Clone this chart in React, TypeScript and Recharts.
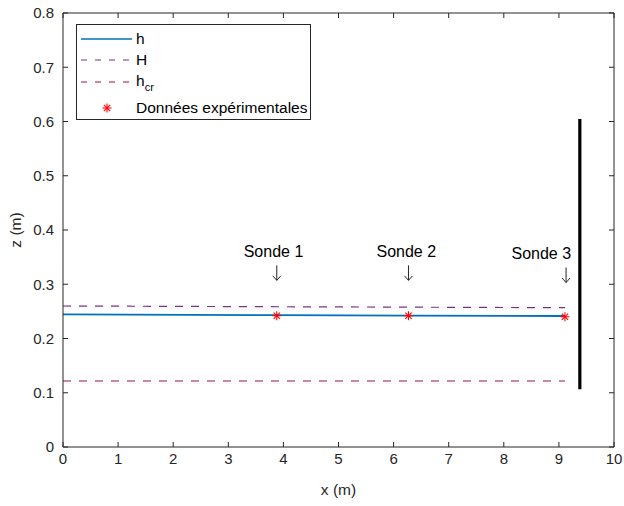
import React from 'react';
import { ComposedChart, Line, XAxis, YAxis, Scatter, Legend } from 'recharts';

const xTicks = [0, 1, 2, 3, 4, 5, 6, 7, 8, 9, 10];
const yTicks = [0, 0.1, 0.2, 0.3, 0.4, 0.5, 0.6, 0.7, 0.8];

const hX = [0, 3.88, 6.27, 9.11];
const hY = [0.2446, 0.243, 0.2422, 0.2415];
const bigHX = [0, 9.11];
const bigHY = [0.2599, 0.2568];
const hcrX = [0, 9.11];
const hcrY = [0.1217, 0.1217];
const expX = [3.88, 6.27, 9.11];
const expY = [0.242, 0.242, 0.24];
const wallX = [9.38, 9.38];
const wallY = [0.6046, 0.1063];

const sondeNames = ['Sonde 1', 'Sonde 2', 'Sonde 3'];
const sondeLabelX = [3.82, 6.23, 8.68];
const sondeLabelY = [0.361, 0.361, 0.357];
const arrowX = [3.88, 6.27, 9.13];
const arrowY = [0.321, 0.321, 0.317];

const legendNames = ['h', 'H', 'hcr', 'Données expérimentales'];

const BLUE = '#0072BD';
const PURPLE = '#7E2F8E';
const DARKRED = '#A2142F';
const AXIS = '#262626';
const FONT = '"Liberation Sans", Arial, Helvetica, sans-serif';

const zip = (xs: number[], ys: number[]) => xs.map((x, i) => ({ x, y: ys[i] }));
const hData = zip(hX, hY);
const bigHData = zip(bigHX, bigHY);
const hcrData = zip(hcrX, hcrY);
const expData = zip(expX, expY);
const wallData = zip(wallX, wallY);
const labelData = sondeNames.map((name, i) => ({ x: sondeLabelX[i], y: sondeLabelY[i], name }));
const arrowData = zip(arrowX, arrowY);

const Asterisk = ({ cx, cy, s = 4.5 }: any) => {
  const d = s * 0.707;
  return (
    <g stroke="#FF0000" strokeWidth={1.1}>
      <line x1={cx - s} y1={cy} x2={cx + s} y2={cy} />
      <line x1={cx} y1={cy - s} x2={cx} y2={cy + s} />
      <line x1={cx - d} y1={cy - d} x2={cx + d} y2={cy + d} />
      <line x1={cx - d} y1={cy + d} x2={cx + d} y2={cy - d} />
    </g>
  );
};

const SondeLabel = (props: any) => {
  const { cx, cy, payload } = props;
  return (
    <text x={cx} y={cy} dy="0.36em" textAnchor="middle" fontSize={16} fontFamily={FONT} fill="#000">
      {payload.name}
    </text>
  );
};

const Arrow = ({ cx, cy }: any) => (
  <g stroke="#262626" strokeWidth={1} fill="none">
    <line x1={cx} y1={cy - 7.5} x2={cx} y2={cy + 7.5} />
    <polyline points={`${cx - 4},${cy + 3} ${cx},${cy + 7.5} ${cx + 4},${cy + 3}`} />
  </g>
);

const EmptyTick = () => <g />;

const LegendBox = () => {
  const rows = [15, 36, 58, 84];
  return (
    <svg width={236} height={97} style={{ display: 'block' }}>
      <rect x={0.5} y={0.5} width={234} height={95} fill="#fff" stroke={AXIS} strokeWidth={1} />
      <line x1={5} x2={56} y1={rows[0]} y2={rows[0]} stroke={BLUE} strokeWidth={1.6} />
      <line x1={5} x2={56} y1={rows[1]} y2={rows[1]} stroke={PURPLE} strokeWidth={1.1} strokeDasharray="6 8" />
      <line x1={5} x2={56} y1={rows[2]} y2={rows[2]} stroke={DARKRED} strokeWidth={1.1} strokeDasharray="6 8" />
      <Asterisk cx={31} cy={rows[3]} />
      <g fontFamily={FONT} fontSize={15.5} fill="#000">
        <text x={60} y={rows[0] + 5}>{legendNames[0]}</text>
        <text x={60} y={rows[1] + 5}>{legendNames[1]}</text>
        <text x={60} y={rows[2] + 4}>
          {legendNames[2].slice(0, 1)}
          <tspan fontSize={11} dy={5}>{legendNames[2].slice(1)}</tspan>
        </text>
        <text x={60} y={rows[3] + 5}>{legendNames[3]}</text>
      </g>
    </svg>
  );
};

const tickStyle = { fontSize: 15, fontFamily: FONT, fill: AXIS };

export default function App() {
  return (
    <div style={{ position: 'absolute', left: 0, top: 0, width: 624, height: 506, background: '#fff' }}>
      <ComposedChart width={624} height={506} margin={{ top: 13, right: 10, bottom: 0, left: 0 }}>
        <XAxis
          dataKey="x"
          type="number"
          domain={[0, 10]}
          ticks={xTicks}
          allowDataOverflow
          height={59}
          tickLine={false}
          tickSize={0}
          tickMargin={6}
          tick={tickStyle}
          axisLine={{ stroke: AXIS }}
          label={{
            content: (p: any) => {
              const vb = p.viewBox;
              return (
                <text x={vb.x + vb.width / 2} y={vb.y + 48} textAnchor="middle" fontSize={15.5} fontFamily={FONT} fill={AXIS}>
                  x (m)
                </text>
              );
            },
          }}
        />
        <YAxis
          type="number"
          domain={[0, 0.8]}
          ticks={yTicks}
          allowDataOverflow
          width={63}
          tickLine={false}
          tickSize={0}
          tickMargin={9}
          tick={tickStyle}
          tickFormatter={(v: number) => (v === 0 ? '0' : v.toFixed(1))}
          axisLine={{ stroke: AXIS }}
          label={{
            content: (p: any) => {
              const vb = p.viewBox;
              const cx = vb.x + 16;
              const cy = vb.y + vb.height / 2;
              return (
                <text x={cx} y={cy} dy="0.35em" textAnchor="middle" fontSize={15.5} fontFamily={FONT} fill={AXIS} transform={`rotate(-90 ${cx} ${cy})`}>
                  z (m)
                </text>
              );
            },
          }}
        />
        <XAxis xAxisId="bt" orientation="bottom" mirror type="number" dataKey="x" domain={[0, 10]} ticks={xTicks} allowDataOverflow tick={EmptyTick} tickSize={5} tickLine={{ stroke: AXIS }} axisLine={false} />
        <XAxis xAxisId="tp" orientation="top" mirror type="number" dataKey="x" domain={[0, 10]} ticks={xTicks} allowDataOverflow tick={EmptyTick} tickSize={5} tickLine={{ stroke: AXIS }} axisLine={{ stroke: AXIS }} />
        <YAxis yAxisId="lt" orientation="left" mirror type="number" domain={[0, 0.8]} ticks={yTicks} allowDataOverflow tick={EmptyTick} tickSize={5} tickLine={{ stroke: AXIS }} axisLine={false} />
        <YAxis yAxisId="rt" orientation="right" mirror type="number" domain={[0, 0.8]} ticks={yTicks} allowDataOverflow tick={EmptyTick} tickSize={5} tickLine={{ stroke: AXIS }} axisLine={{ stroke: AXIS }} />

        <Line data={hcrData} dataKey="y" type="linear" stroke={DARKRED} strokeWidth={1.2} strokeDasharray="8 8" dot={false} isAnimationActive={false} />
        <Line data={bigHData} dataKey="y" type="linear" stroke={PURPLE} strokeWidth={1.2} strokeDasharray="8 8" dot={false} isAnimationActive={false} />
        <Line data={hData} dataKey="y" type="linear" stroke={BLUE} strokeWidth={1.8} dot={false} isAnimationActive={false} />
        <Line data={wallData} dataKey="y" type="linear" stroke="#000" strokeWidth={3.2} dot={false} isAnimationActive={false} />
        <Scatter data={expData} dataKey="y" shape={Asterisk} isAnimationActive={false} />
        <Scatter data={labelData} dataKey="y" shape={SondeLabel} isAnimationActive={false} />
        <Scatter data={arrowData} dataKey="y" shape={Arrow} isAnimationActive={false} />
        <Legend
          layout="vertical"
          align="center"
          verticalAlign="middle"
          content={LegendBox}
          wrapperStyle={{ left: 76, top: 24, width: 236, height: 97 }}
        />
      </ComposedChart>
    </div>
  );
}
